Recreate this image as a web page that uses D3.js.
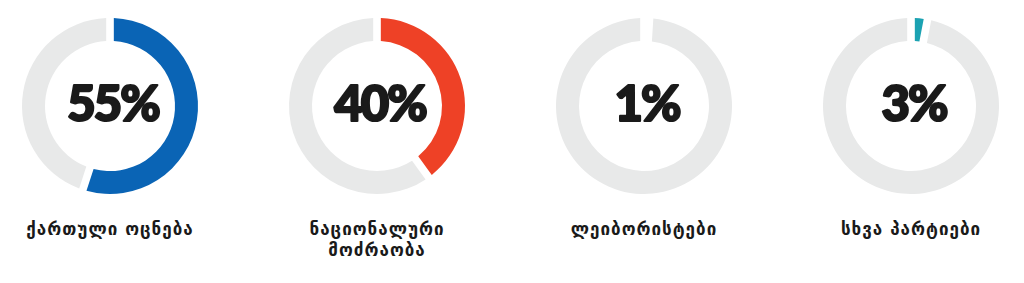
<!DOCTYPE html>
<html>
<head>
<meta charset="utf-8">
<script src="https://cdn.jsdelivr.net/npm/d3@7"></script>
<style>
  html, body { margin: 0; padding: 0; background: #fff; }
  svg { display: block; }
  .pct { font-family: Lato, Roboto, sans-serif; font-weight: 900; fill: #1a1a1a; stroke: #1a1a1a; stroke-width: 2.2; stroke-linejoin: round; }
  .lbl { font-family: "DejaVu Sans", sans-serif; font-weight: bold; fill: #1a1a1a; }
</style>
</head>
<body>
<div id="chart"></div>
<script>
// parties and their share of the vote
var parties = [["ქართული ოცნება"], ["ნაციონალური", "მოძრაობა"], ["ლეიბორისტები"], ["სხვა პარტიები"]];
var shares = [55, 40, 1, 3];
var colors = ["#0a64b5", "#ee4126", "#1ba2b2", "#1ba2b2"];
var restColor = "#e8e9e9";

var width = 1024, height = 283;
var outerR = 88, innerR = 65;

var svg = d3.select("#chart").append("svg")
    .attr("width", width)
    .attr("height", height);

var x = d3.scalePoint()
    .domain(d3.range(shares.length))
    .range([110, 911]);

var pie = d3.pie().sort(null).value(function (d) { return d.v; });

var arc = d3.arc()
    .innerRadius(innerR)
    .outerRadius(outerR)
    .padAngle(0.07);

var groups = svg.selectAll("g.donut")
    .data(shares)
    .enter()
    .append("g")
    .attr("class", "donut")
    .attr("transform", function (d, i) { return "translate(" + x(i) + ",106)"; });

groups.each(function (d, i) {
    var g = d3.select(this);
    var slices = pie([{ v: d, c: colors[i] }, { v: 100 - d, c: restColor }]);

    g.selectAll("path")
        .data(slices)
        .enter()
        .append("path")
        .attr("d", arc)
        .style("fill", function (s) { return s.data.c; });

    g.append("text")
        .attr("class", "pct")
        .attr("text-anchor", "middle")
        .attr("x", 3)
        .attr("y", 15)
        .attr("font-size", 49)
        .attr("letter-spacing", -2)
        .text(d + "%");

    g.selectAll("text.lbl")
        .data(parties[i])
        .enter()
        .append("text")
        .attr("class", "lbl")
        .attr("text-anchor", "middle")
        .attr("font-size", 17)
        .attr("letter-spacing", 1)
        .attr("y", function (t, j) { return 129 + j * 21; })
        .text(function (t) { return t; });
});
</script>
</body>
</html>
